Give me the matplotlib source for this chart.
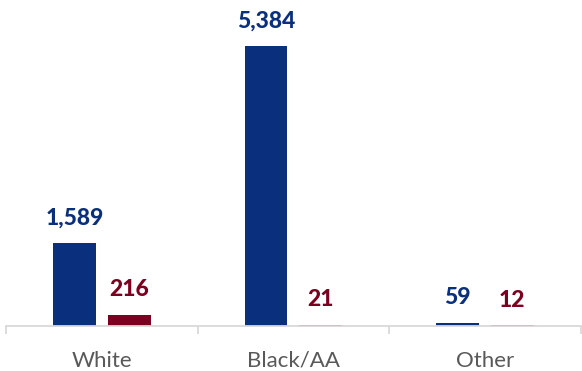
import matplotlib.pyplot as plt
import numpy as np

categories = ["White", "Black/AA", "Other"]
series_a = [1589, 5384, 59]
series_b = [216, 21, 12]
labels_a = ["1,589", "5,384", "59"]
labels_b = ["216", "21", "12"]

blue = "#0A2F7D"
red = "#7D0020"
grey = "#D9D9D9"

fig = plt.figure(figsize=(5.82, 3.71), dpi=100)
ax = fig.add_axes([0.0103, 0.1213, 0.9875, 0.8787])

x = np.arange(len(categories))
w = 0.224
off = 0.143
bars_a = ax.bar(x - off, series_a, width=w, color=blue)
bars_b = ax.bar(x + off, series_b, width=w, color=red)

for bars, labs, col in [(bars_a, labels_a, blue), (bars_b, labels_b, red)]:
    for b, lab in zip(bars, labs):
        ax.annotate(
            lab,
            (b.get_x() + b.get_width() / 2, b.get_height()),
            xytext=(0, 13.5),
            textcoords="offset points",
            ha="center",
            va="baseline",
            fontsize=16.5,
            fontweight="black",
            family="Lato",
            color=col,
        )

ax.set_xlim(-0.5, 2.5)
ax.set_ylim(0, 5384 * 326 / 280)

for s in ["top", "right", "left"]:
    ax.spines[s].set_visible(False)
ax.spines["bottom"].set_color(grey)
ax.spines["bottom"].set_linewidth(1.3)

ax.set_yticks([])
ax.set_xticks(x)
ax.set_xticklabels(categories, fontsize=16, family="Lato", color="#595959")
ax.tick_params(axis="x", which="major", length=0, pad=18)
ax.set_xticks([-0.5, 0.5, 1.5, 2.5], minor=True)
ax.tick_params(axis="x", which="minor", length=6, width=1.3, color=grey, direction="out")

fig.savefig("out.png", dpi=100)
